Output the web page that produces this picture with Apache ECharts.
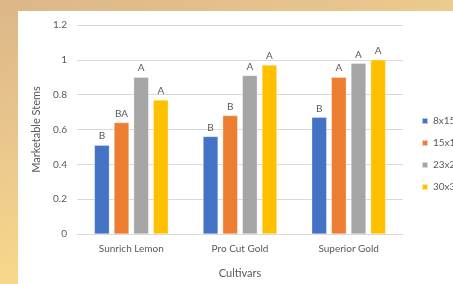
<!DOCTYPE html>
<html>
<head>
<meta charset="utf-8">
<script src="https://cdn.jsdelivr.net/npm/echarts@6/dist/echarts.min.js"></script>
<style>
  html, body { margin: 0; padding: 0; }
  body {
    width: 453px; height: 284px; overflow: hidden; position: relative;
    background: linear-gradient(160deg, #dcb688 0%, #e9c58d 30%, #f6d68b 60%, #fbe08f 100%);
  }
  #panel { position: absolute; left: 18px; top: 11px; right: 0; bottom: 0; background: #fff; }
  #chart { position: absolute; left: 0; top: 0; width: 453px; height: 284px; }
</style>
</head>
<body>
<div id="panel"></div>
<div id="chart"></div>
<script>
// cultivars on the x axis
const cultivars = ['Sunrich Lemon', 'Pro Cut Gold', 'Superior Gold']
const spacings = ['8x15', '15x15', '23x23', '30x30']
const colors = ['#4472C4', '#ED7D31', '#A5A5A5', '#FFC000']

// marketable stems per spacing
const stems8x15 = [0.51, 0.56, 0.67]
const stems15x15 = [0.64, 0.68, 0.90]
const stems23x23 = [0.90, 0.91, 0.98]
const stems30x30 = [0.77, 0.97, 1.00]

// significance letters over the bars
const letters8x15 = ['B', 'B', 'B']
const letters15x15 = ['BA', 'B', 'A']
const letters23x23 = ['A', 'A', 'A']
const letters30x30 = ['A', 'A', 'A']

const values = [stems8x15, stems15x15, stems23x23, stems30x30]
const letters = [letters8x15, letters15x15, letters23x23, letters30x30]

const font = 'Lato, "Open Sans", sans-serif'
const textColor = '#595959'

let myChart = echarts.init(document.getElementById('chart'), null, { renderer: 'canvas' })

let option = {
  animation: false,
  textStyle: { fontFamily: font },
  grid: { left: 77, right: 50, top: 25, bottom: 49 },
  legend: {
    orient: 'vertical',
    left: 421,
    top: 116,
    padding: 0,
    itemWidth: 6,
    itemHeight: 6,
    itemGap: 12,
    icon: 'rect',
    textStyle: { fontSize: 10, color: textColor, fontFamily: font },
    data: spacings
  },
  xAxis: {
    type: 'category',
    data: cultivars,
    name: 'Cultivars',
    nameLocation: 'middle',
    nameGap: 34,
    nameTextStyle: { fontSize: 11, color: textColor },
    axisLine: { lineStyle: { color: '#D9D9D9' } },
    axisTick: { show: false },
    axisLabel: { fontSize: 10, color: textColor, margin: 10 }
  },
  yAxis: {
    type: 'value',
    min: 0,
    max: 1.2,
    interval: 0.2,
    name: 'Marketable Stems',
    nameLocation: 'middle',
    nameRotate: 90,
    nameGap: 27,
    nameTextStyle: { fontSize: 11, color: textColor },
    axisLabel: { fontSize: 10, color: textColor, margin: 10, formatter: v => String(+v.toFixed(1)) },
    splitLine: { lineStyle: { color: '#D9D9D9' } }
  },
  series: spacings.map((name, i) => ({
    name: name,
    type: 'bar',
    barGap: '31%',
    barCategoryGap: '32%',
    itemStyle: { color: colors[i], borderColor: 'rgba(255,255,255,0.6)', borderWidth: 0.5 },
    label: {
      show: true,
      position: 'top',
      distance: 4,
      fontSize: 10,
      color: textColor,
      formatter: p => letters[i][p.dataIndex]
    },
    data: values[i]
  }))
}

option && myChart.setOption(option)
</script>
</body>
</html>
